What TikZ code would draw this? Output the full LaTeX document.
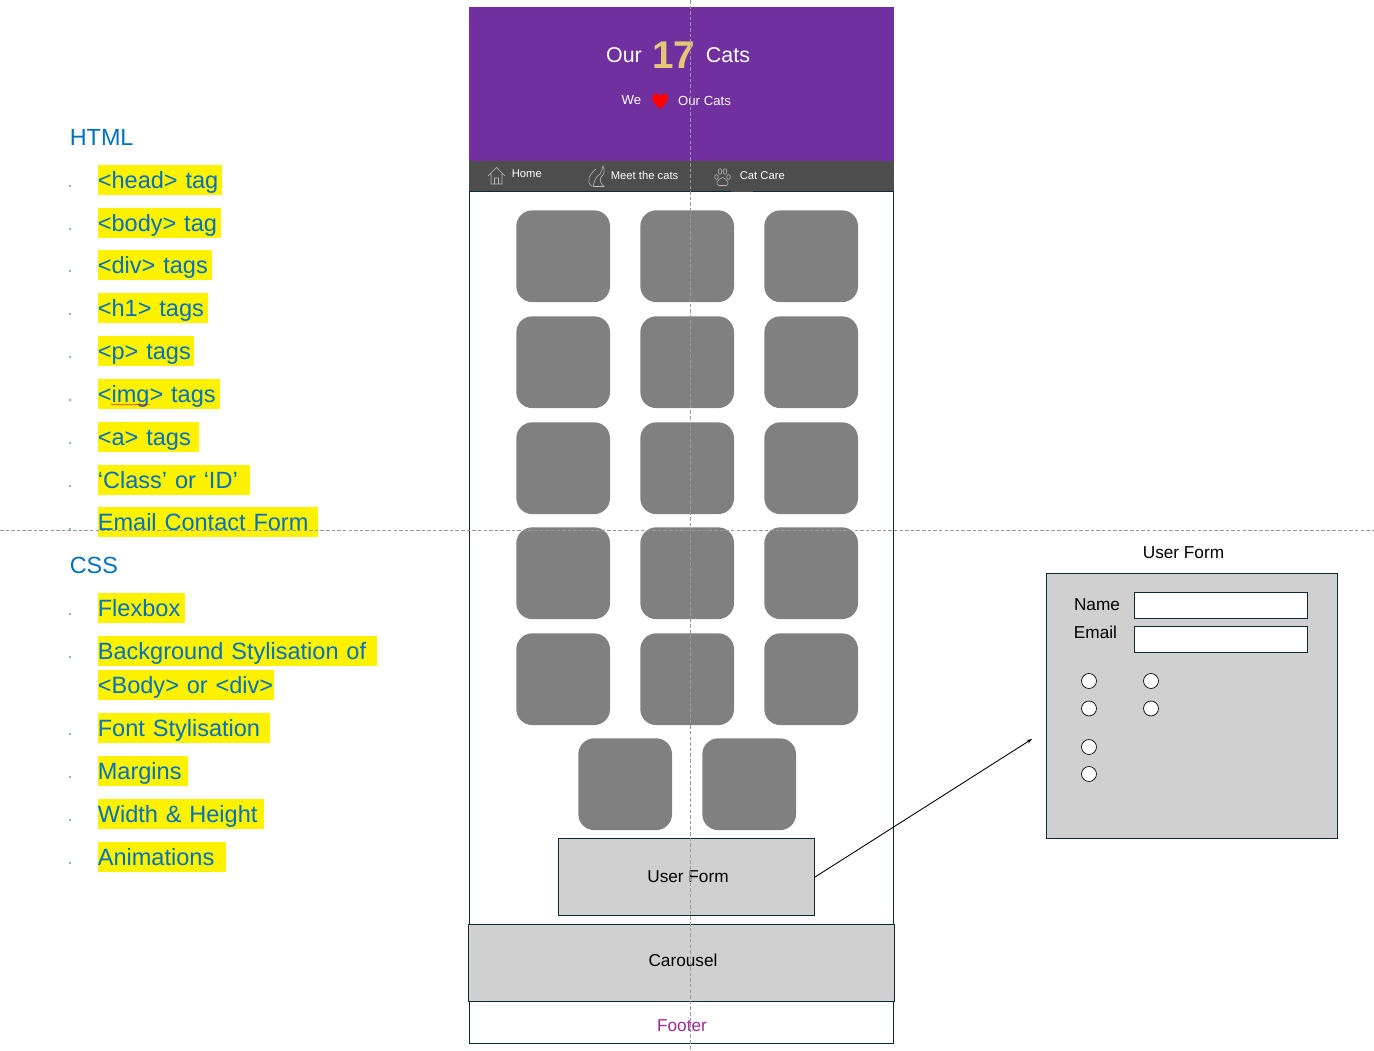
\documentclass[tikz,border=0pt]{standalone}
\usepackage{fontspec}
\setmainfont{Liberation Sans}
\usetikzlibrary{arrows.meta,decorations.pathmorphing}
\definecolor{purplebar}{HTML}{7030A0}
\definecolor{navbar}{HTML}{4D4D4D}
\definecolor{tilegrey}{HTML}{808080}
\definecolor{formgrey}{HTML}{D0D0D0}
\definecolor{edgeblue}{HTML}{0B2A3A}
\definecolor{listblue}{HTML}{0070C0}
\definecolor{footerpink}{HTML}{A02B93}
\definecolor{countgold}{HTML}{E3C877}
\tikzset{
	tile/.style={fill=tilegrey, draw=none, rounded corners=9pt, minimum width=53.3pt, minimum height=52.2pt, inner sep=0pt, anchor=north west},
	greybox/.style={fill=formgrey, draw=edgeblue, line width=0.5pt, inner sep=0pt, anchor=north west},
	inputbox/.style={fill=white, draw=edgeblue, line width=0.5pt, minimum width=98.6pt, minimum height=14.7pt, inner sep=0pt, anchor=north west},
	radiobtn/.style={circle, fill=white, draw=black, line width=0.4pt, minimum size=8.5pt, inner sep=0pt},
	hilite/.style={fill=yellow, text=listblue, font=\fontsize{13.4}{16}\selectfont, inner sep=0pt, minimum height=17.6pt, text height=12pt, text depth=2pt, anchor=west, align=left},
	heading/.style={text=listblue, font=\fontsize{13.3}{16}\selectfont, inner sep=0pt, anchor=west},
	formtext/.style={text=black, font=\fontsize{9.8}{11}\selectfont, inner sep=0pt},
	navtext/.style={text=white, font=\fontsize{6.4}{7}\selectfont, inner sep=0pt, anchor=west},
	guide/.style={draw=black!40, line width=0.4pt, dash pattern=on 2pt off 1.2pt},
	navicon/.style={draw=white!75!black, line width=0.3pt}
}
\begin{document}
\begin{tikzpicture}[x=0.02cm, y=-0.02cm]
	\useasboundingbox (0, 0) rectangle (1374, 1051);
	
	%%%%% page frame %%%%%
	\draw[fill=white, draw=edgeblue, line width=0.5pt] (469.5, 191) rectangle (893.5, 1043.5);
	\fill[purplebar] (469, 7) rectangle (894, 161);
	\fill[navbar] (469, 161) rectangle (894, 191);
	\fill[navbar] (731, 190) rectangle (753, 192);
	
	%%%%% header %%%%%
	\node[text=white, font=\fontsize{12.2}{14}\selectfont, inner sep=0pt] (ourword) at (624, 55) {Our};
	\node[text=white, font=\fontsize{12.2}{14}\selectfont, inner sep=0pt] (catsword) at (728, 55) {Cats};
	\node[text=countgold, font=\fontsize{22}{24}\selectfont\bfseries, inner sep=0pt] (countnum) at (674, 55) {17};
	\node[text=white, font=\fontsize{7.5}{9}\selectfont, inner sep=0pt] (weword) at (631.5, 100) {We};
	\node[text=white, font=\fontsize{7.5}{9}\selectfont, inner sep=0pt] (ourcats) at (704.5, 100.5) {Our Cats};
	\fill[red] (660, 109) .. controls (653, 103) and (652, 100) .. (652, 98) .. controls (652, 93) and (658, 92) .. (660, 96) .. controls (662, 92) and (668, 93) .. (668, 98) .. controls (668, 100) and (667, 103) .. (660, 109);
	
	%%%%% nav bar %%%%%
	\node[navtext] (homenav) at (511.5, 174) {Home};
	\node[navtext] (meetnav) at (610.5, 175) {Meet the cats};
	\node[navtext] (carenav) at (739.5, 176) {Cat Care};
	\draw[navicon] (488, 176) -- (496.5, 167.5) -- (505, 176) (491, 174) -- (491, 184) -- (502, 184) -- (502, 174) (494.5, 184) -- (494.5, 178) -- (498.5, 178) -- (498.5, 184);
	\draw[navicon] (592, 186.5) .. controls (585, 181) and (590, 174) .. (596, 169) (593, 186.5) .. controls (595, 178) and (597, 176) .. (600, 174) .. controls (602, 172) and (602, 169) .. (603, 166) .. controls (605, 170) and (605, 174) .. (601, 177) .. controls (599, 180) and (601, 184) .. (604, 186.5) -- (593, 186.5);
	\draw[navicon] (722.5, 177.5) .. controls (717, 179) and (715, 185.5) .. (719, 185.5) .. controls (721, 185.5) and (724, 185.5) .. (726, 185.5) .. controls (730, 185.5) and (728, 179) .. (722.5, 177.5);
	\draw[navicon] (716.5, 177) ellipse (1.8 and 2.4) (720, 171.5) ellipse (1.8 and 2.8) (725, 171.5) ellipse (1.8 and 2.8) (728.5, 177) ellipse (1.8 and 2.4);
	
	%%%%% tiles %%%%%
	\foreach \ypos [count=\r] in {210, 316, 422, 527, 633} {
		\foreach \xpos [count=\c] in {516, 640, 764} {
			\node[tile] (tile\r\c) at (\xpos, \ypos) {};
		}
	}
	\node[tile] (tile61) at (578, 738) {};
	\node[tile] (tile62) at (702, 738) {};
	
	%%%%% form and carousel %%%%%
	\node[greybox, minimum width=145.8pt, minimum height=43.9pt] (userform) at (558, 838) {};
	\node[formtext] (userlabel) at (688, 876.5) {User Form};
	\node[greybox, minimum width=242.2pt, minimum height=43.9pt] (carousel) at (468, 924) {};
	\node[formtext] (carousellabel) at (683, 960.5) {Carousel};
	\node[formtext, text=footerpink] (footerlabel) at (682, 1025.5) {Footer};
	
	%%%%% form detail %%%%%
	\node[formtext] (detailtitle) at (1183.5, 552.5) {User Form};
	\node[greybox, minimum width=165.8pt, minimum height=150.7pt] (detailbox) at (1046, 573) {};
	\node[formtext] (namelabel) at (1097, 604.5) {Name};
	\node[formtext] (emaillabel) at (1095.5, 632.5) {Email};
	\node[inputbox] (nameinput) at (1134, 592) {};
	\node[inputbox] (emailinput) at (1134, 626) {};
	\node[radiobtn] (radioa) at (1089, 681) {};
	\node[radiobtn] (radiob) at (1089, 708.5) {};
	\node[radiobtn] (radioc) at (1151, 681) {};
	\node[radiobtn] (radiod) at (1151, 708.5) {};
	\node[radiobtn] (radioe) at (1089, 747) {};
	\node[radiobtn] (radiof) at (1089, 774) {};
	
	\coordinate (arrowend) at (1032, 739);
	\draw[-{Stealth[length=3pt, width=2.2pt]}, line width=0.5pt, black] (userform.east) -- (arrowend);
	
	%%%%% left lists %%%%%
	\node[heading] (htmlhead) at (69.5, 137) {HTML};
	\node[heading] (csshead) at (69.5, 565) {CSS};
	\foreach \ypos/\boxw/\txt [count=\i] in {
		180/124/{<head> tag}, 223/123/{<body> tag}, 265/114/{<div> tags}, 308/110/{<h1> tags},
		351/96/{<p> tags}, 394/122/{<img> tags}, 437/101/{<a> tags}, 480/152/{‘Class’ or ‘ID’},
		522/220/{Email Contact Form}, 608/87/{Flexbox}, 651/279/{Background Stylisation of},
		685/176/{<Body> or <div>}, 728/172/{Font Stylisation}, 771/90/{Margins},
		814/166/{Width \& Height}, 857/128/{Animations}} {
		\node[hilite, text width=0.02cm*\boxw] (item\i) at (97.5, \ypos) {\mbox{\txt}};
	}
	\foreach \ypos [count=\i] in {186, 229, 271, 314, 357, 400, 443, 486, 529, 614, 657, 734, 777, 820, 863} {
		\fill[listblue] (70, \ypos) circle (0.9);
	}
	\draw[red, line width=0.25pt, decorate, decoration={snake, amplitude=0.3pt, segment length=2pt}] (111, 404.5) -- (150, 404.5);
	
	%%%%% guides %%%%%
	\coordinate (vtop) at (690.5, 0);
	\coordinate (vbot) at (690.5, 1051);
	\coordinate (hleft) at (0, 530.5);
	\coordinate (hright) at (1374, 530.5);
	\draw[guide] (vtop) -- (vbot);
	\draw[guide] (hleft) -- (hright);
\end{tikzpicture}
\end{document}
